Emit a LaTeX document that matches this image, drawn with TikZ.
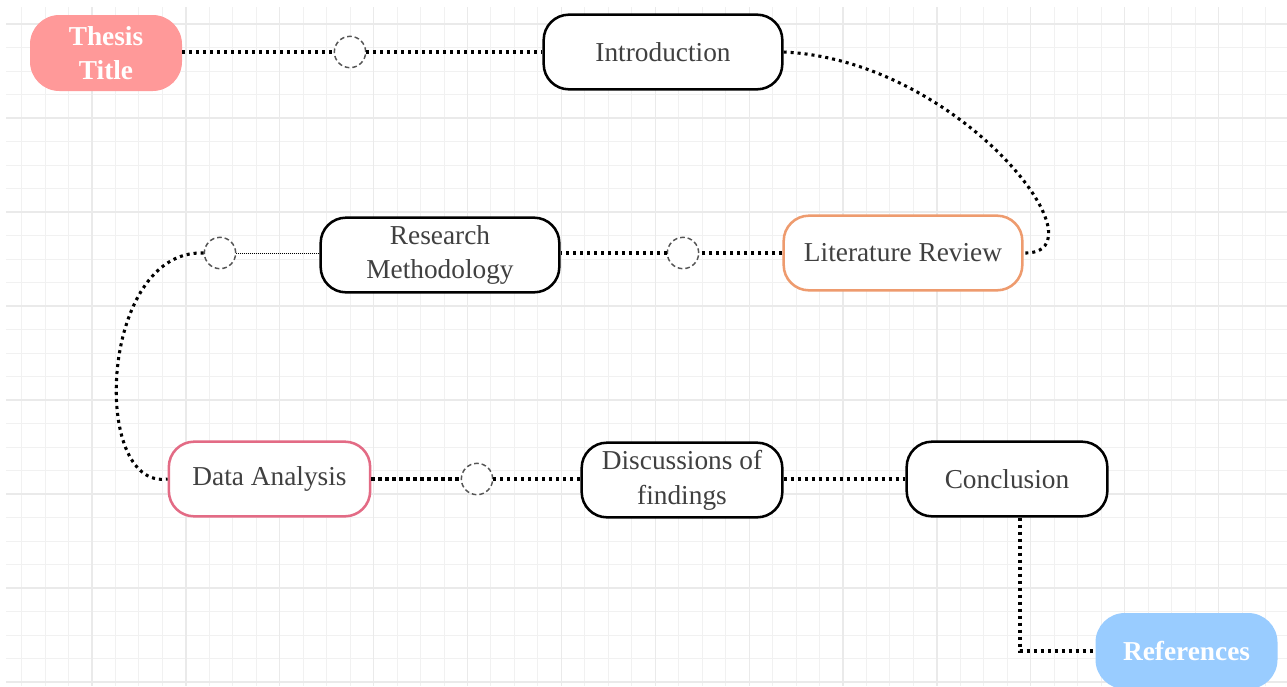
\documentclass[tikz,border=0pt]{standalone}
\usepackage{fontspec}
\setmainfont{Liberation Serif}
\usetikzlibrary{calc}
\definecolor{txt}{HTML}{404040}
\definecolor{pinkfill}{HTML}{FF9999}
\definecolor{bluefill}{HTML}{99CCFF}
\definecolor{orangeb}{HTML}{EE9B6E}
\definecolor{redb}{HTML}{E36B85}
\definecolor{gridminor}{HTML}{F1F1F1}
\definecolor{gridmajor}{HTML}{EAEAEA}
\definecolor{circ}{HTML}{555555}
\begin{document}
\begin{tikzpicture}[x=0.75pt,y=-0.75pt,
 mybox/.style={draw=black, line width=1.9pt, rounded corners=19pt, fill=white, text=txt, inner sep=0pt, minimum height=56pt, align=center, font=\fontsize{20.5}{26}\selectfont},
 mypill/.style={rounded corners=22pt, inner sep=0pt, minimum height=57pt, align=center, text=white, font=\fontsize{20.5}{26}\selectfont\bfseries},
 myhole/.style={circle, draw=circ, line width=1.1pt, dash pattern=on 3.5pt off 2.2pt, minimum size=23.5pt, inner sep=0pt, fill=white},
 mylink/.style={line width=2.3pt, dash pattern=on 2.3pt off 2.95pt},
 mythin/.style={line width=0.7pt, dash pattern=on 0.75pt off 0.75pt}
]
\useasboundingbox (0,0) rectangle (1287,686);
\fill[white] (0,0) rectangle (1287,686);
% grid
\foreach \k in {-3,...,50} \draw[gridminor, line width=0.75pt] ({92+23.47*\k},7) -- ({92+23.47*\k},686);
\foreach \k in {-4,...,24} \draw[gridminor, line width=0.75pt] (6,{118+23.5*\k}) -- (1287,{118+23.5*\k});
\foreach \k in {0,...,12} \draw[gridmajor, line width=0.95pt] ({92+93.88*\k},7) -- ({92+93.88*\k},686);
\foreach \k in {0,...,7} \draw[gridmajor, line width=0.95pt] (6,{24+94*\k}) -- (1287,{24+94*\k});
% nodes
\node[mypill, fill=pinkfill, minimum width=114pt] (tt) at (106,53) {Thesis\\Title};
\node[mybox, minimum width=179pt] (intro) at (663,52) {Introduction};
\node[myhole] (h1) at (350,52) {};
\node[mybox, draw=orangeb, minimum width=179pt] (lit) at (903,253) {Literature Review};
\node[myhole] (h2) at (683,253) {};
\node[mybox, minimum width=179pt] (rm) at (440,255) {Research\\Methodology};
\node[myhole] (h3) at (220,253) {};
\node[mybox, draw=redb, minimum width=151pt] (da) at (269.5,479) {Data Analysis};
\node[myhole] (h4) at (477,479) {};
\node[mybox, minimum width=150.5pt] (disc) at (682,480) {Discussions of\\findings};
\node[mybox, minimum width=150.5pt] (con) at (1007,479) {Conclusion};
\node[mypill, fill=bluefill, minimum width=136.5pt] (ref) at (1186.5,651) {References};
% connectors
\draw[mylink] (tt.east |- h1.west) -- (h1.west);
\draw[mylink] (h1.east) -- (intro.west);
\draw[mylink] (intro.east) .. controls ($(intro.east)+(177,8)$) and ($(lit.east)+(86,2)$) .. (lit.east);
\draw[mylink] (lit.west) -- (h2.east);
\draw[mylink] (h2.west) -- (rm.east |- h2.west);
\draw[mythin] (rm.west |- h3.east) -- (h3.east);
\draw[mylink] (h3.west) .. controls ($(h3.west)+(-104,-4)$) and ($(da.west)+(-78,11)$) .. (da.west);
\draw[mylink] (da.east) -- (h4.west);
\draw[mylink] (h4.east) -- (disc.west |- h4.east);
\draw[mylink] (disc.east |- con.west) -- (con.west);
\draw[mylink] ($(con.south)+(13,0)$) |- (ref.west);
\end{tikzpicture}
\end{document}
